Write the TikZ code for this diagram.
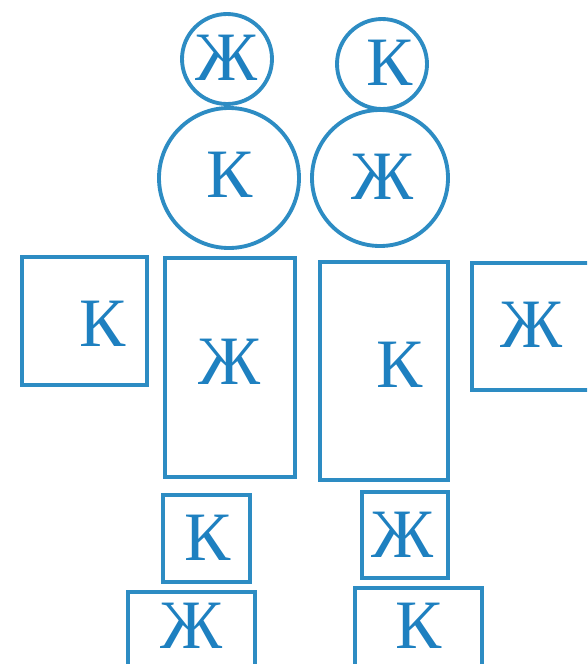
\documentclass[tikz,border=0pt]{standalone}
\usepackage{fontspec}
\setmainfont{Liberation Serif}
\definecolor{shapeblue}{RGB}{45,140,195}
\definecolor{letterblue}{RGB}{30,128,192}
\tikzset{every picture/.style={line width=2.9pt}}
\tikzset{
  outline/.style={draw=shapeblue},
  letter/.style={text=letterblue,inner sep=0pt,font=\fontsize{52}{52}\selectfont}
}

\begin{document}
\begin{tikzpicture}[x=0.75pt,y=0.75pt,yscale=-1,xscale=1]
	\useasboundingbox (0,0) rectangle (587,664);
	\clip (0,0) rectangle (587,664);
	
	%Shape: Circle [head left]
	\draw [outline] (227,59) circle [radius=45];
	%Shape: Circle [head right]
	\draw [outline] (382,64) circle [radius=45];
	%Shape: Circle [body left]
	\draw [outline] (229,178) circle [radius=70];
	%Shape: Circle [body right]
	\draw [outline] (380,178) circle [radius=68];
	
	%Shape: Rectangle [arm left]
	\draw [outline] (22,257) rectangle (147,385);
	%Shape: Rectangle [trunk left]
	\draw [outline] (165,258) rectangle (295,477);
	%Shape: Rectangle [trunk right]
	\draw [outline] (320,262) rectangle (448,480);
	%Shape: Rectangle [arm right]
	\draw [outline] (472,263) rectangle (600,390);
	%Shape: Rectangle [leg left]
	\draw [outline] (163,495) rectangle (250,582);
	%Shape: Rectangle [leg right]
	\draw [outline] (362,492) rectangle (448,578);
	%Shape: Rectangle [foot left]
	\draw [outline] (128,592) rectangle (255,690);
	%Shape: Rectangle [foot right]
	\draw [outline] (355,588) rectangle (482,690);
	
	% Text Node
	\node [letter] (headL) at (227,58) {Ж};
	% Text Node
	\node [letter] (headR) at (390,63) {К};
	% Text Node
	\node [letter] (bodyL) at (230,175) {К};
	% Text Node
	\node [letter] (bodyR) at (383,177) {Ж};
	% Text Node
	\node [letter] (armL) at (103,324) {К};
	% Text Node
	\node [letter] (trunkL) at (230,362) {Ж};
	% Text Node
	\node [letter] (trunkR) at (400,365) {К};
	% Text Node
	\node [letter] (armR) at (532,325) {Ж};
	% Text Node
	\node [letter] (legL) at (208,538) {К};
	% Text Node
	\node [letter] (legR) at (403,535) {Ж};
	% Text Node
	\node [letter] (footL) at (192,626) {Ж};
	% Text Node
	\node [letter] (footR) at (419,626) {К};
	
\end{tikzpicture}
\end{document}
